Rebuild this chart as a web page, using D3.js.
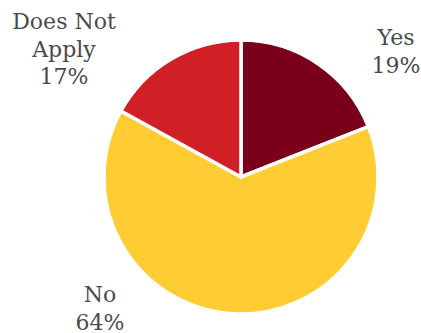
<!DOCTYPE html>
<html>
<head>
<meta charset="utf-8">
<script src="https://cdn.jsdelivr.net/npm/d3@7"></script>
<style>
  html, body { margin: 0; padding: 0; background: #fff; }
  svg { display: block; }
</style>
</head>
<body>
<svg id="chart" width="421" height="333"></svg>
<script>
// Survey answers, clockwise from 12 o'clock
const categories = ["Yes", "No", "Does Not Apply"];
const values = [19, 64, 17];
const colors = ["#7a0019", "#ffcc33", "#d11f26"];
// Multi-line label text for each slice
const labelLines = [["Yes", "19%"], ["No", "64%"], ["Does Not", "Apply", "17%"]];
// Label anchor (centre of first baseline) for each slice
const labelPos = [[396, 45], [100, 302], [64, 29]];

const svg = d3.select("#chart");
const cx = 241, cy = 177, r = 137;

const pie = d3.pie().sort(null).value(d => d)(values);
const arc = d3.arc().innerRadius(0).outerRadius(r);

const g = svg.append("g").attr("transform", `translate(${cx},${cy})`);
g.selectAll("path")
  .data(pie)
  .join("path")
  .attr("d", arc)
  .attr("fill", (d, i) => colors[i])
  .attr("stroke", "#fff")
  .attr("stroke-width", 3.5)
  .attr("stroke-linejoin", "round");

const lineH = 27.5;
svg.selectAll("text.lbl")
  .data(categories)
  .join("text")
  .attr("class", "lbl")
  .attr("text-anchor", "middle")
  .attr("font-family", "'DejaVu Serif', serif")
  .attr("font-size", 22)
  .attr("fill", "#4a4a4a")
  .each(function (d, i) {
    const t = d3.select(this);
    labelLines[i].forEach((ln, k) => {
      t.append("tspan")
        .attr("x", labelPos[i][0])
        .attr("y", labelPos[i][1] + k * lineH)
        .text(ln);
    });
  });
</script>
</body>
</html>
